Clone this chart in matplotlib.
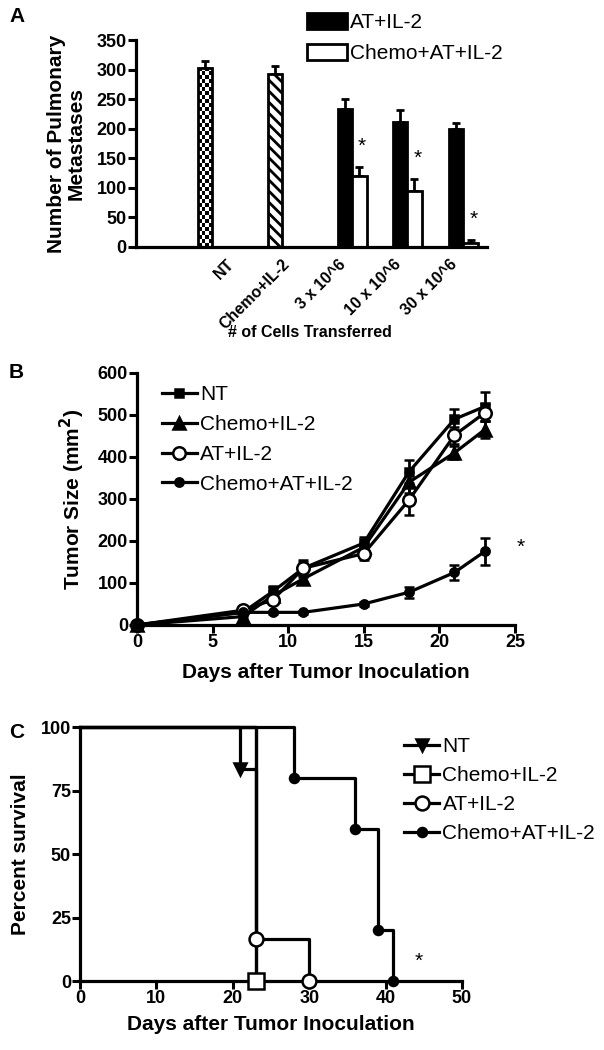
import numpy as np
import matplotlib
matplotlib.use("Agg")
import matplotlib.pyplot as plt
from matplotlib.patches import Patch
from matplotlib.lines import Line2D

plt.rcParams['font.family'] = ['Liberation Sans', 'DejaVu Sans']
plt.rcParams['hatch.color'] = 'black'
plt.rcParams['hatch.linewidth'] = 2.0

# ---- panel A data ----
single_labels = ['NT', 'Chemo+IL-2']
single_vals = [303, 293]
single_err = [12, 13]
dose_labels = ['3 x 10^6', '10 x 10^6', '30 x 10^6']
at_vals = [234, 211, 200]
at_err = [16, 20, 10]
chemo_at_vals = [120, 95, 7]
chemo_at_err = [15, 20, 5]

# ---- panel B data ----
days = [0, 7, 9, 11, 15, 18, 21, 23]
nt_size = [0, 30, 80, 135, 195, 365, 490, 520]
nt_size_err = [0, 5, 12, 20, 15, 28, 25, 35]
chemo_size = [0, 20, 70, 110, 185, 340, 410, 465]
chemo_size_err = [0, 5, 10, 10, 12, 25, 15, 20]
at_size = [0, 35, 60, 135, 170, 298, 452, 505]
at_size_err = [0, 5, 10, 15, 15, 36, 20, 20]
chemo_at_size = [0, 30, 30, 30, 50, 78, 125, 175]
chemo_at_size_err = [0, 3, 3, 3, 4, 13, 18, 33]

# ---- panel C data (Kaplan-Meier steps) ----
nt_t = [0, 21, 23]
nt_s = [100, 83.3, 0]
chemo_t = [0, 23]
chemo_s = [100, 0]
at_t = [0, 23, 30]
at_s = [100, 16.7, 0]
chemo_at_t = [0, 28, 36, 39, 41]
chemo_at_s = [100, 80, 60, 20, 0]

fig = plt.figure(figsize=(6.04, 10.5), dpi=100)

def style_axes(ax):
    for s in ['top', 'right']:
        ax.spines[s].set_visible(False)
    for s in ['left', 'bottom']:
        ax.spines[s].set_linewidth(2.3)
    ax.tick_params(width=2.2, length=5.5, labelsize=13, pad=1)
    for lab in ax.get_xticklabels() + ax.get_yticklabels():
        lab.set_fontweight('bold')

# ================= Panel A =================
axA = fig.add_axes([0.225, 0.7648, 0.581, 0.1971])
w = 0.26
single_pos = [1.24, 2.50]
group_pos = np.array([3.88, 4.87, 5.88])
tick_pos = [1.72, 2.71, 3.72, 4.71, 5.73]

# NT checkerboard bar
b = axA.bar(single_pos[0], single_vals[0], w, color='white', zorder=1)[0]
rows = int(single_vals[0] / 6.7)
checker = np.indices((rows, 4)).sum(axis=0) % 2
im = axA.imshow(checker, cmap='gray', extent=(b.get_x(), b.get_x() + w, 0, single_vals[0]),
                aspect='auto', interpolation='nearest', zorder=1.5)
im.set_clip_path(b)
axA.bar(single_pos[0], single_vals[0], w, facecolor='none', edgecolor='black', linewidth=2, zorder=2)
# Chemo+IL-2 hatched bar
axA.bar(single_pos[1], single_vals[1], w, facecolor='white', edgecolor='black',
        linewidth=2, hatch='\\\\\\', zorder=2)
axA.errorbar(single_pos, single_vals, yerr=[[0, 0], single_err], fmt='none', ecolor='black',
             elinewidth=2, capsize=3, capthick=2, zorder=1)

axA.bar(group_pos - w / 2, at_vals, w, color='black', edgecolor='black', linewidth=2, zorder=2)
axA.bar(group_pos + w / 2, chemo_at_vals, w, color='white', edgecolor='black', linewidth=2, zorder=2)
axA.errorbar(group_pos - w / 2, at_vals, yerr=[[0] * 3, at_err], fmt='none', ecolor='black',
             elinewidth=2, capsize=3, capthick=2, zorder=1)
axA.errorbar(group_pos + w / 2, chemo_at_vals, yerr=[[0] * 3, chemo_at_err], fmt='none', ecolor='black',
             elinewidth=2, capsize=3, capthick=2, zorder=1)
for x, v, e in zip(group_pos + w / 2, chemo_at_vals, chemo_at_err):
    axA.annotate('*', (x + 0.05, v + e), xytext=(0, 8), textcoords='offset points',
                 ha='center', va='bottom', fontsize=15)

axA.set_xlim(0, 6.3)
axA.set_ylim(0, 350)
axA.set_yticks(range(0, 351, 50))
axA.set_xticks(tick_pos)
axA.set_xticklabels(single_labels + dose_labels, rotation=45, ha='right', va='center',
                    rotation_mode='anchor')
style_axes(axA)
axA.tick_params(axis='x', length=0, labelsize=11.5, pad=11)
axA.set_ylabel('Number of Pulmonary\nMetastases', fontsize=15, fontweight='bold',
               linespacing=1.05, labelpad=8)
fig.text(0.513, 0.683, '# of Cells Transferred', ha='center', va='center',
         fontsize=11.5, fontweight='bold')

legA = [Patch(facecolor='black', edgecolor='black', linewidth=2, label='AT+IL-2'),
        Patch(facecolor='white', edgecolor='black', linewidth=2, label='Chemo+AT+IL-2')]
fig.legend(handles=legA, loc='upper left', bbox_to_anchor=(0.495, 0.996), frameon=False,
           fontsize=15, handlelength=1.9, handleheight=0.85, handletextpad=0.15,
           labelspacing=0.55, borderaxespad=0)

# ================= Panel B =================
axB = fig.add_axes([0.2268, 0.4048, 0.6258, 0.24])
series = [
    (nt_size, nt_size_err, 's', 'black', 5.5, 'NT'),
    (chemo_size, chemo_size_err, '^', 'black', 8, 'Chemo+IL-2'),
    (at_size, at_size_err, 'o', 'white', 9, 'AT+IL-2'),
    (chemo_at_size, chemo_at_size_err, 'o', 'black', 6, 'Chemo+AT+IL-2'),
]
for vals, err, mk, fc, ms, lab in series:
    axB.errorbar(days, vals, yerr=err, color='black', lw=2.3, marker=mk, markersize=ms,
                 markerfacecolor=fc, markeredgecolor='black', markeredgewidth=1.8,
                 ecolor='black', elinewidth=2, capsize=3.5, capthick=2, clip_on=False, label=lab)
axB.annotate('*', (days[-1], chemo_at_size[-1]), xytext=(26, 3), textcoords='offset points',
             ha='center', va='center', fontsize=15)
axB.set_xlim(0, 25)
axB.set_ylim(0, 600)
axB.set_xticks(range(0, 26, 5))
axB.set_yticks(range(0, 601, 100))
style_axes(axB)
axB.set_xlabel('Days after Tumor Inoculation', fontsize=15, fontweight='bold', labelpad=9)
axB.set_ylabel('Tumor Size (mm$^\\mathbf{2}$)', fontsize=15, fontweight='bold', labelpad=8)
hB = [Line2D([], [], color='black', lw=2.3, marker=mk, markersize=ms, markerfacecolor=fc,
             markeredgecolor='black', markeredgewidth=1.8) for _, _, mk, fc, ms, _ in series]
axB.legend(hB, [s[-1] for s in series], loc='upper left', bbox_to_anchor=(0.254, 0.641),
           bbox_transform=fig.transFigure, frameon=False, fontsize=15, handlelength=1.7,
           handletextpad=0.15, labelspacing=0.52, borderaxespad=0)

# ================= Panel C =================
axC = fig.add_axes([0.1325, 0.0657, 0.6324, 0.2419])
curves = [
    (nt_t, nt_s, 'v', 'black', 8, 'NT'),
    (chemo_t, chemo_s, 's', 'white', 11, 'Chemo+IL-2'),
    (at_t, at_s, 'o', 'white', 10, 'AT+IL-2'),
    (chemo_at_t, chemo_at_s, 'o', 'black', 6.5, 'Chemo+AT+IL-2'),
]
for t, s, mk, fc, ms, lab in curves:
    axC.step(t, s, where='post', color='black', lw=2.3, clip_on=False, zorder=2)
for t, s, mk, fc, ms, lab in curves:
    axC.plot(t[1:], s[1:], ls='none', marker=mk, markersize=ms, markerfacecolor=fc,
             markeredgecolor='black', markeredgewidth=1.8, clip_on=False, zorder=3)
axC.annotate('*', (chemo_at_t[-1], 0), xytext=(18, 14), textcoords='offset points',
             ha='center', va='center', fontsize=15)
axC.set_xlim(0, 50)
axC.set_ylim(0, 100)
axC.set_xticks(range(0, 51, 10))
axC.set_yticks(range(0, 101, 25))
style_axes(axC)
axC.set_xlabel('Days after Tumor Inoculation', fontsize=15, fontweight='bold', labelpad=6)
axC.set_ylabel('Percent survival', fontsize=15, fontweight='bold', labelpad=8)
hC = [Line2D([], [], color='black', lw=2.3, marker=mk, markersize=ms, markerfacecolor=fc,
             markeredgecolor='black', markeredgewidth=1.8) for _, _, mk, fc, ms, _ in curves]
axC.legend(hC, [c[-1] for c in curves], loc='upper left', bbox_to_anchor=(0.655, 0.306),
           bbox_transform=fig.transFigure, frameon=False, fontsize=15, handlelength=1.7,
           handletextpad=0.15, labelspacing=0.48, borderaxespad=0)

# panel letters
for letter, (x, y) in zip('ABC', [(0.028, 0.984), (0.027, 0.645), (0.027, 0.302)]):
    fig.text(x, y, letter, fontsize=15, fontweight='bold', ha='center', va='center')

fig.savefig('out.png', dpi=100)
